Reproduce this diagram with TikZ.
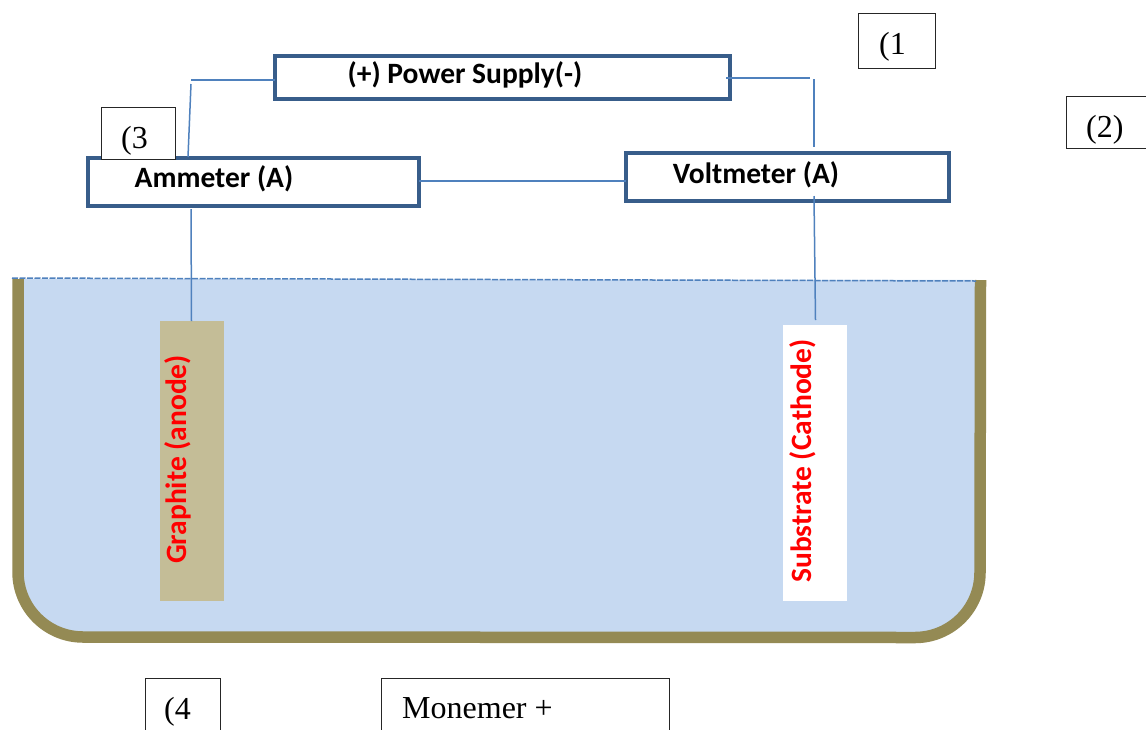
\documentclass[tikz,border=0pt]{standalone}
\usepackage{fontspec}
\setmainfont{Liberation Serif}
\newfontfamily\labelfont{Carlito}[BoldFont={Carlito Bold}]
\definecolor{boxblue}{HTML}{385D8A}
\definecolor{wireblue}{HTML}{4F81BD}
\definecolor{tankedge}{HTML}{948A54}
\definecolor{liquid}{HTML}{C6D9F1}
\definecolor{graphitefill}{HTML}{C4BD97}
\tikzset{
  unitbox/.style={draw=boxblue,line width=4pt,fill=white,inner sep=0pt,outer sep=0pt},
  tagbox/.style={draw=black!85,line width=0.9pt,fill=white,inner sep=0pt,outer sep=0pt},
  wire/.style={draw=wireblue,line width=1.5pt},
  unitlabel/.style={font=\labelfont\bfseries\fontsize{29.5}{34}\selectfont,text=black,inner sep=0pt},
  electrodelabel/.style={font=\labelfont\bfseries\fontsize{29.5}{34}\selectfont,text=red,inner sep=0pt,rotate=90},
  tagtext/.style={font=\fontsize{32}{36}\selectfont,text=black,inner sep=0pt,anchor=base west},
  electrode/.style={inner sep=0pt,outer sep=0pt,draw=none},
}
\begin{document}
\begin{tikzpicture}[x=1pt,y=-1pt]
\clip (0,0) rectangle (1146,729);
\fill[white] (0,0) rectangle (1146,729);
% tank
\fill[liquid] (18,279) -- (18,572) arc[start angle=180,end angle=90,radius=65] -- (915,637.5) arc[start angle=90,end angle=0,radius=65] -- (980,280) -- cycle;
\draw[tankedge,line width=11.5pt] (18,279) -- (18,572) arc[start angle=180,end angle=90,radius=65] -- (915,637.5) arc[start angle=90,end angle=0,radius=65] -- (980.5,280);
% electrodes
\node[electrode,fill=graphitefill,minimum width=64pt,minimum height=280pt] (anode) at (192,461) {};
\node[electrode,fill=white,minimum width=64pt,minimum height=276pt] (cathode) at (815,463) {};
\node[electrodelabel] (anodetext) at (178,459.5) {Graphite (anode)};
\node[electrodelabel] (cathodetext) at (802.5,461) {Substrate (Cathode)};
% units
\node[unitbox,minimum width=455pt,minimum height=43.5pt] (power) at (502,77.5) {};
\node[unitbox,minimum width=331pt,minimum height=48pt] (ammeter) at (253.5,181.5) {};
\node[unitbox,minimum width=323pt,minimum height=48pt] (voltmeter) at (787.5,176.5) {};
\node[unitlabel] (powertext) at (465,75) {(+) Power Supply(-)};
\node[unitlabel] (ammetertext) at (214,179) {Ammeter (A)};
\node[unitlabel] (voltmetertext) at (756,175) {Voltmeter (A)};
% free corners of the wiring
\coordinate (cornerLa) at (191,80);
\coordinate (cornerLb) at (191,84);
\coordinate (cornerRa) at (810,78);
\coordinate (cornerRb) at (814,79);
\coordinate (powerR) at (726,78);
\coordinate (ammeterTop) at (188,157);
\coordinate (ammeterBot) at (191,209);
\coordinate (voltTop) at (814,147);
\coordinate (voltBot) at (814,196);
\coordinate (anodeTop) at (191.5,321);
\coordinate (cathodeTop) at (815.5,320);
\coordinate (levelL) at (12,278);
\coordinate (levelR) at (976,281);
\coordinate (midwire) at (500,181);
% wires
\draw[wire] ([yshift=-2.5pt]power.west) -- (cornerLa);
\draw[wire] (cornerLb) -- (ammeterTop);
\draw[wire] (powerR) -- (cornerRa);
\draw[wire] (cornerRb) -- (voltTop);
\draw[wire] (ammeter.east |- midwire) -- (voltmeter.west |- midwire);
\draw[wire] (ammeterBot) -- (anodeTop);
\draw[wire] (voltBot) -- (cathodeTop);
\draw[wire,dash pattern=on 6pt off 1.5pt] (levelL) -- (levelR);
% tags
\node[tagbox,minimum width=77pt,minimum height=55pt] (tagone) at (896.5,40.5) {};
\node[tagbox,minimum width=100pt,minimum height=52pt] (tagtwo) at (1116,122) {};
\node[tagbox,minimum width=74pt,minimum height=52pt] (tagthree) at (138,133) {};
\node[tagbox,minimum width=75pt,minimum height=70pt] (tagfour) at (182.5,713) {};
\node[tagbox,minimum width=288pt,minimum height=70pt] (tagfive) at (525,713) {};
\node[tagtext] (onetext) at (879,54) {(1};
\node[tagtext] (twotext) at (1086,137) {(2)};
\node[tagtext] (threetext) at (121,148) {(3};
\node[tagtext] (fourtext) at (164,719) {(4};
\node[tagtext] (fivetext) at (402,718) {Monemer +};
\end{tikzpicture}
\end{document}
